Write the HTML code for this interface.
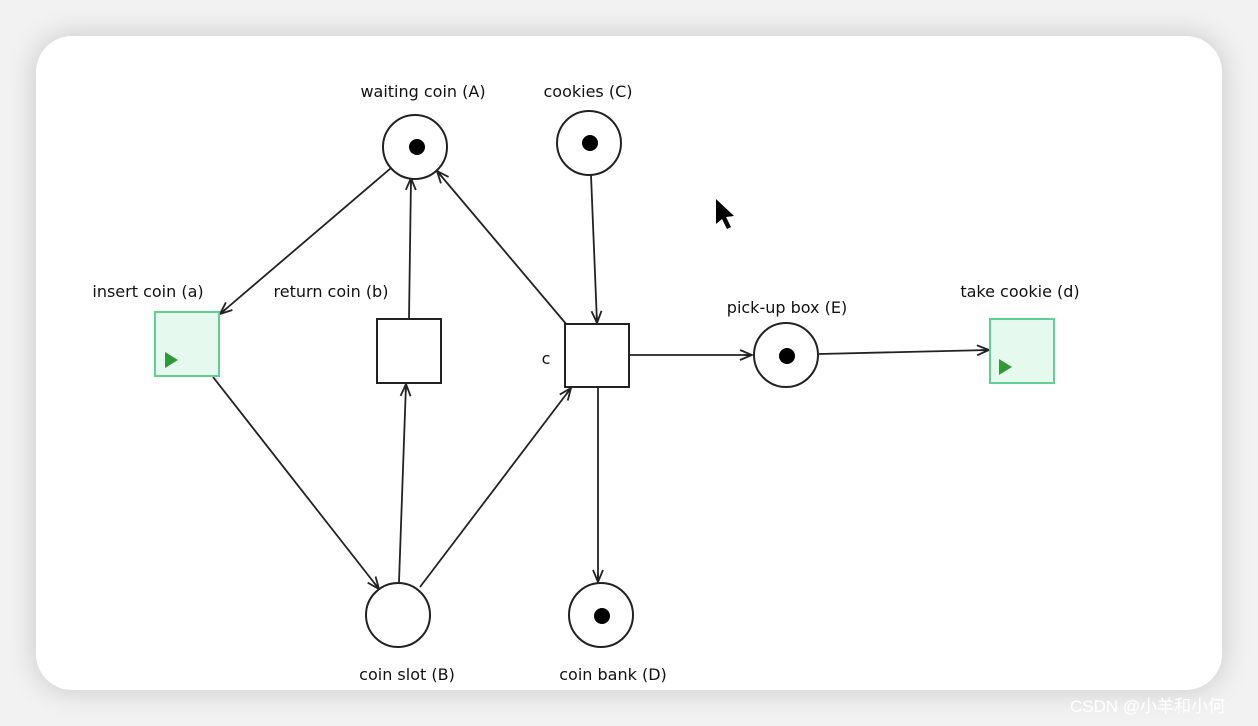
<!DOCTYPE html>
<html><head><meta charset="utf-8"><style>
html,body{margin:0;padding:0;width:1258px;height:726px;overflow:hidden;background:#f2f2f2;}
.card{position:absolute;left:36px;top:36px;width:1186px;height:654px;background:#fff;border-radius:36px;box-shadow:0 0 30px rgba(0,0,0,0.18);}
svg{position:absolute;left:0;top:0;}
text{font-family:"DejaVu Sans","Liberation Sans",sans-serif;font-size:16px;fill:#111;}
.wm{font-family:"Liberation Sans","Noto Sans CJK SC",sans-serif;font-size:17px;fill:#fff;}
</style></head><body>
<div class="card"></div>
<svg width="1258" height="726" viewBox="0 0 1258 726">
<defs>
<marker id="ar" viewBox="0 0 14 12" refX="13" refY="6" markerWidth="14" markerHeight="12" markerUnits="userSpaceOnUse" orient="auto">
<path d="M1,1 L13,6 L1,11 M13,6 L5,6" fill="none" stroke="#222" stroke-width="1.8"/>
</marker>
</defs>
<g stroke="#222" stroke-width="1.8" fill="none" marker-end="url(#ar)">
<line x1="391" y1="168" x2="220" y2="314"/>
<line x1="213" y1="377" x2="379" y2="589"/>
<line x1="409" y1="319" x2="411" y2="178"/>
<line x1="399" y1="582" x2="406" y2="384"/>
<line x1="420" y1="587" x2="571" y2="388"/>
<line x1="567" y1="325" x2="437" y2="171"/>
<line x1="591" y1="175" x2="597" y2="323"/>
<line x1="630" y1="355" x2="752" y2="355"/>
<line x1="819" y1="354" x2="989" y2="350"/>
<line x1="598" y1="388" x2="598" y2="582"/>
</g>
<g stroke="#222" stroke-width="2" fill="#fff">
<circle cx="415" cy="147" r="32"/>
<circle cx="589" cy="143" r="32"/>
<circle cx="786" cy="355" r="32"/>
<circle cx="398" cy="615" r="32"/>
<circle cx="601" cy="615" r="32"/>
<rect x="377" y="319" width="64" height="64"/>
<rect x="565" y="324" width="64" height="63"/>
</g>
<g fill="#000">
<circle cx="417" cy="147" r="8"/>
<circle cx="590" cy="143" r="8"/>
<circle cx="787" cy="356" r="8"/>
<circle cx="602" cy="616" r="8"/>
</g>
<rect x="155" y="312" width="64" height="64" fill="#e6f9ee" stroke="#5fcf94" stroke-width="2"/>
<rect x="990" y="319" width="64" height="64" fill="#e6f9ee" stroke="#5fcf94" stroke-width="2"/>
<polygon points="165,352 165,368 178,360" fill="#2e9a36"/>
<polygon points="999,359 999,375 1012,367" fill="#2e9a36"/>
<polygon points="716,199 716,224 722,219 727,229 731,227 726,217 734,216" fill="#000"/>
<text x="423" y="97" text-anchor="middle">waiting coin (A)</text>
<text x="588" y="97" text-anchor="middle">cookies (C)</text>
<text x="148" y="297" text-anchor="middle">insert coin (a)</text>
<text x="331" y="297" text-anchor="middle">return coin (b)</text>
<text x="787" y="313" text-anchor="middle">pick-up box (E)</text>
<text x="1020" y="297" text-anchor="middle">take cookie (d)</text>
<text x="546" y="364" text-anchor="middle">c</text>
<text x="407" y="680" text-anchor="middle">coin slot (B)</text>
<text x="613" y="680" text-anchor="middle">coin bank (D)</text>
<text class="wm" x="1070" y="712">CSDN @小羊和小何</text>
</svg>
</body></html>
